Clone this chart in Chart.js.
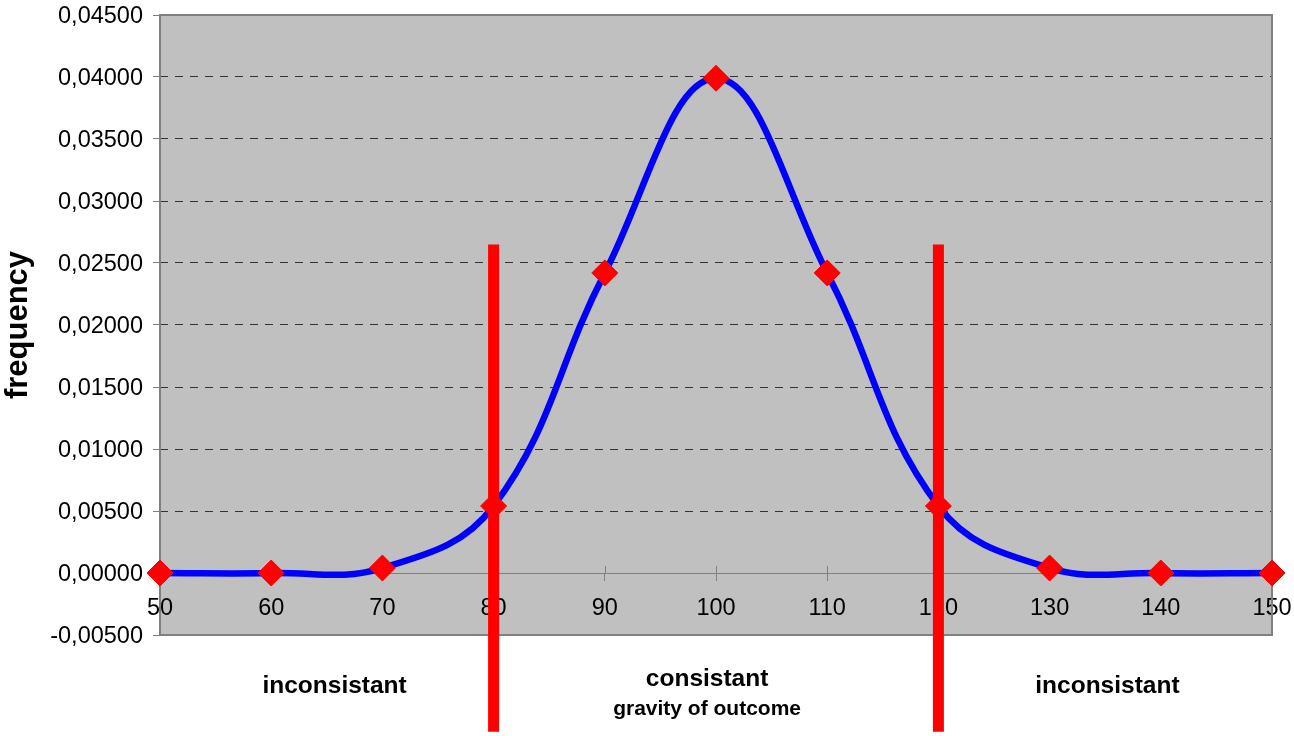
<!DOCTYPE html>
<html>
<head>
<meta charset="utf-8">
<script src="https://cdn.jsdelivr.net/npm/chart.js@4/dist/chart.umd.min.js"></script>
<style>
html,body{margin:0;padding:0;background:#fff;overflow:hidden;}
canvas{display:block;}
</style>
</head>
<body>
<canvas id="c" width="1294" height="736"></canvas>
<script>
// ---- data ----
const xValues = [50, 60, 70, 80, 90, 100, 110, 120, 130, 140, 150];
const frequency = [0.0000, 0.0000, 0.0004, 0.0054, 0.0242, 0.0399, 0.0242, 0.0054, 0.0004, 0.0000, 0.0000];
const xTicks = [50, 60, 70, 80, 90, 100, 110, 120, 130, 140, 150];
const yTicks = [-0.005, 0, 0.005, 0.010, 0.015, 0.020, 0.025, 0.030, 0.035, 0.040, 0.045];
const thresholds = [80, 120];
const thresholdRange = [0.0265, -0.0128];
const regionLabels = ['inconsistant', 'consistant', 'inconsistant'];
const regionAnchors = [65.7, 99.2, 135.2];
const xTitle = 'gravity of outcome';
const yTitle = 'frequency';

const FONT = '"Liberation Sans", Arial, Helvetica, sans-serif';

const curveData = xValues.map((x, i) => ({x: x, y: frequency[i]}));
const thresholdSets = thresholds.map(t => ({
  type: 'line',
  data: [{x: t, y: thresholdRange[0]}, {x: t, y: thresholdRange[1]}],
  borderColor: '#ff0000',
  borderWidth: 11,
  borderCapStyle: 'butt',
  pointRadius: 0,
  tension: 0,
  clip: false,
  order: 0
}));

function isEdge(v) {
  return Math.abs(v - 0.045) < 1e-9 || Math.abs(v) < 1e-9 || Math.abs(v + 0.005) < 1e-9;
}

function noPad(s) {
  s.paddingTop = 0; s.paddingBottom = 0; s.paddingLeft = 0; s.paddingRight = 0;
}

const decor = {
  id: 'decor',
  beforeDraw(chart) {
    const {ctx, chartArea: a} = chart;
    ctx.save();
    ctx.fillStyle = '#ffffff';
    ctx.fillRect(0, 0, chart.width, chart.height);
    ctx.fillStyle = '#c0c0c0';
    ctx.fillRect(a.left, a.top, a.right - a.left, a.bottom - a.top);
    ctx.restore();
  },
  beforeDatasetsDraw(chart) {
    const {ctx, chartArea: a, scales} = chart;
    ctx.save();
    ctx.strokeStyle = '#808080';
    ctx.lineWidth = 2;
    ctx.strokeRect(a.left, a.top, a.right - a.left, a.bottom - a.top);
    // upper half of the x tick marks (cross ticks)
    const y0 = scales.y.getPixelForValue(0);
    ctx.lineWidth = 1;
    ctx.beginPath();
    xTicks.forEach(v => {
      const px = Math.round(scales.x.getPixelForValue(v)) + 0.5;
      ctx.moveTo(px, y0 - 7);
      ctx.lineTo(px, y0);
    });
    ctx.stroke();
    ctx.restore();
  },
  afterDraw(chart) {
    const {ctx, chartArea: a, scales} = chart;
    ctx.save();
    ctx.fillStyle = '#000';
    ctx.textAlign = 'center';
    ctx.textBaseline = 'alphabetic';
    ctx.font = 'bold 24.5px ' + FONT;
    regionLabels.forEach((t, i) => {
      const px = scales.x.getPixelForValue(regionAnchors[i]);
      const dy = (i === 1) ? 51 : 58;
      ctx.fillText(t, px, a.bottom + dy);
    });
    ctx.font = 'bold 21px ' + FONT;
    ctx.fillText(xTitle, scales.x.getPixelForValue(regionAnchors[1]), a.bottom + 80);
    // y title
    ctx.translate(18, (a.top + a.bottom) / 2);
    ctx.rotate(-Math.PI / 2);
    ctx.font = 'bold 31px ' + FONT;
    ctx.textBaseline = 'middle';
    ctx.fillText(yTitle, 0, 0);
    ctx.restore();
  }
};

new Chart(document.getElementById('c'), {
  type: 'line',
  data: {
    datasets: [
      ...thresholdSets,
      {
        label: yTitle,
        data: curveData,
        borderColor: '#0000ff',
        borderWidth: 6.5,
        tension: 0.4,
        fill: false,
        pointStyle: 'rectRot',
        pointRadius: 13,
        pointBackgroundColor: '#ff0000',
        pointBorderColor: '#ff0000',
        pointBorderWidth: 1,
        clip: false,
        order: 1
      }
    ]
  },
  options: {
    responsive: false,
    devicePixelRatio: 1,
    animation: false,
    events: [],
    layout: {padding: {left: 0, right: 22, top: 15, bottom: 101}},
    plugins: {legend: {display: false}, tooltip: {enabled: false}, title: {display: false}},
    scales: {
      x: {
        type: 'linear',
        position: {y: 0},
        min: 50,
        max: 150,
        afterBuildTicks: s => { s.ticks = xTicks.map(v => ({value: v})); },
        afterFit: noPad,
        ticks: {
          font: {family: FONT, size: 23.5},
          color: '#000',
          padding: 14,
          maxRotation: 0,
          autoSkip: false,
          callback: v => String(v)
        },
        grid: {drawOnChartArea: false, drawTicks: true, tickLength: 7, tickColor: '#808080', color: '#808080'},
        border: {display: true, color: '#808080', width: 1}
      },
      y: {
        type: 'linear',
        min: -0.005,
        max: 0.045,
        afterBuildTicks: s => { s.ticks = yTicks.map(v => ({value: v})); },
        afterFit: s => { s.width = 160; noPad(s); },
        ticks: {
          font: {family: FONT, size: 23.5},
          color: '#000',
          padding: 10,
          labelOffset: 2,
          autoSkip: false,
          callback: v => (Math.round(v * 1e5) / 1e5).toFixed(5).replace('.', ',')
        },
        grid: {
          color: c => (c.tick && isEdge(c.tick.value)) ? 'rgba(0,0,0,0)' : '#333333',
          lineWidth: 1,
          tickColor: '#808080',
          tickLength: 7
        },
        border: {display: false, dash: [8, 7]}
      }
    }
  },
  plugins: [decor]
});
</script>
</body>
</html>
